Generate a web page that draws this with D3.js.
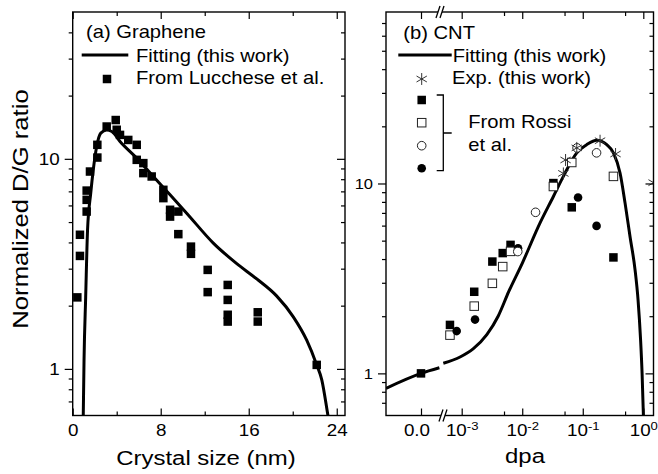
<!DOCTYPE html>
<html>
<head>
<meta charset="utf-8">
<script src="https://cdn.jsdelivr.net/npm/d3@7/dist/d3.min.js"></script>
<style>
  body { margin: 0; background: #fff; }
  svg text { font-family: "Liberation Sans", Arial, sans-serif; fill: #000; }
</style>
</head>
<body>
<svg id="chart" width="658" height="474"></svg>
<script>
// (a) Graphene: fitting curve (crystal size nm, normalized D/G)
const laFit = [0.96, 1.03, 1.18, 1.35, 1.64, 1.87, 2.18, 2.55, 3.09, 3.55, 4.3, 5.82, 7.33, 8.85, 10.36, 12.78, 14.91, 16.73, 18.55, 20.05, 21.27, 22.18, 22.64, 23.2, 23.4];
const ratioFitA = [0.6, 1.1, 2.2, 4.59, 6.87, 8.87, 11.45, 13.25, 13.7, 13.5, 12.1, 10.08, 8.23, 6.74, 5.51, 3.97, 3.17, 2.68, 2.22, 1.77, 1.37, 1.045, 0.887, 0.6, 0.52];

// (a) points from Lucchese et al.
const laLucchese = [0.42, 0.66, 0.66, 1.27, 1.27, 1.27, 1.57, 2.24, 2.24, 3.09, 3.91, 4.0, 4.3, 5.05, 5.82, 5.82, 6.42, 6.42, 7.18, 8.24, 8.24, 8.85, 8.85, 9.6, 9.6, 10.75, 10.75, 12.27, 12.27, 14.09, 14.09, 14.09, 14.09, 16.82, 16.82, 22.18];
const ratioLucchese = [2.19, 3.45, 4.35, 5.61, 6.38, 7.06, 8.70, 10.14, 11.66, 14.25, 15.3, 13.75, 13.0, 12.3, 11.66, 9.89, 9.54, 8.55, 8.24, 7.12, 6.50, 5.72, 5.31, 5.61, 4.38, 3.82, 3.53, 2.96, 2.32, 2.51, 2.13, 1.81, 1.68, 1.86, 1.68, 1.045];

// (b) CNT: fitting curve, linear part near 0 and log part
const dpaFitLin = [-0.0004, 0, 0.00021];
const ratioFitLin = [0.834, 1.0, 1.07];
const dpaFit = [4.97e-4, 9.4e-4, 1.56e-3, 2.6e-3, 4e-3, 6e-3, 1e-2, 1.97e-2, 3.27e-2, 4.78e-2, 7.96e-2, 0.116, 0.17, 0.249, 0.321, 0.413, 0.5, 0.605, 0.731, 0.819, 0.902, 0.955, 1.004, 1.02];
const ratioFitB = [1.13, 1.22, 1.35, 1.6, 2.0, 2.7, 3.8, 6.2, 8.54, 10.9, 14.5, 16.0, 16.9, 16.0, 14.5, 11.35, 7.88, 5.23, 3.51, 2.44, 1.5, 1.0, 0.598, 0.5];

// (b) Exp. (this work)
const dpaExp = [0.0478, 0.052, 0.0796, 0.193, 0.348, 1.48];
const ratioExp = [11.3, 13.3, 15.4, 16.8, 14.3, 10.1];

// (b) From Rossi et al. (four sets)
const dpaRossiZero = [0];
const ratioRossiZero = [1.0];
const dpaRossiFilledSq = [6.4e-4, 1.61e-3, 3.21e-3, 4.76e-3, 6.41e-3, 3.27e-2, 0.0658, 0.321];
const ratioRossiFilledSq = [1.80, 2.69, 3.88, 4.30, 4.75, 10.05, 7.49, 4.08];
const dpaRossiOpenSq = [6.4e-4, 1.61e-3, 3.21e-3, 4.76e-3, 6.41e-3, 3.27e-2, 0.0658, 0.321];
const ratioRossiOpenSq = [1.59, 2.26, 2.98, 3.65, 4.39, 9.64, 12.9, 10.9];
const dpaRossiOpenCirc = [8.44e-3, 0.0166, 0.0805, 0.169];
const ratioRossiOpenCirc = [4.38, 7.05, 15.4, 14.5];
const dpaRossiFilledCirc = [8.26e-4, 1.66e-3, 8.53e-3, 0.0836, 0.169];
const ratioRossiFilledCirc = [1.67, 1.92, 4.56, 8.44, 5.98];

// ticks
const ticksAx = [0, 8, 16, 24];
const minorAx = [4, 12, 20];
const ticksY = [1, 10];
const minorAy = [0.7, 0.8, 0.9, 2, 3, 4, 5, 6, 7, 8, 9, 20, 30, 40];
const minorBy = [0.7, 0.8, 0.9, 2, 3, 4, 5, 6, 7, 8, 9, 20, 30, 40, 50, 60, 70];
const ticksBlin = [0];
const ticksBlog = [1e-3, 1e-2, 1e-1, 1];
const minorBlog = [5e-3, 5e-2, 5e-1];

const svg = d3.select("#chart");
const SX = 1.14;
const plotTop = 12, plotBottom = 415.5;
const aLeft = 72.7, aRight = 345;
const bLeft = 386, bRight = 653.5;

const xA = d3.scaleLinear().domain([0, 24.75]).range([aLeft, aRight]);
const yA = d3.scaleLog().domain([0.6, 50]).range([plotBottom, plotTop]);
const yB = d3.scaleLog().domain([0.6, 80]).range([plotBottom, plotTop]);
const xBLin = d3.scaleLinear().domain([-0.0004, 0.00024]).range([bLeft, 442]);
const xBLog = d3.scaleLog().domain([1e-3, 1]).range([461.7, 643.3]);

function addText(g, x, y, str, size, anchor) {
    return g.append("text")
        .attr("transform", `translate(${x},${y}) scale(${SX},1)`)
        .attr("text-anchor", anchor || "start")
        .attr("font-size", size)
        .text(str);
}

function styleAxis(g, size) {
    g.select(".domain").remove();
    g.selectAll(".tick line").attr("stroke", "#000").attr("stroke-width", 1.2);
    g.selectAll(".tick text").attr("font-size", size).attr("fill", "#000");
    return g;
}

const defs = svg.append("defs");
defs.append("clipPath").attr("id", "clipA").append("rect")
    .attr("x", aLeft).attr("y", plotTop).attr("width", aRight - aLeft).attr("height", plotBottom - plotTop);
defs.append("clipPath").attr("id", "clipB").append("rect")
    .attr("x", bLeft).attr("y", plotTop).attr("width", bRight - bLeft).attr("height", plotBottom - plotTop);

// ---------- panel (a) ----------
const gA = svg.append("g");
const dataA = gA.append("g").attr("clip-path", "url(#clipA)");

dataA.append("path")
    .datum(d3.zip(laFit, ratioFitA))
    .attr("d", d3.line().x(d => xA(d[0])).y(d => yA(d[1])).curve(d3.curveMonotoneX))
    .attr("fill", "none").attr("stroke", "#000").attr("stroke-width", 3);

const sqA = 8.5;
dataA.selectAll("rect.pt")
    .data(d3.zip(laLucchese, ratioLucchese))
    .join("rect")
    .attr("class", "pt")
    .attr("x", d => xA(d[0]) - sqA / 2)
    .attr("y", d => yA(d[1]) - sqA / 2)
    .attr("width", sqA).attr("height", sqA)
    .attr("fill", "#000");

gA.append("rect")
    .attr("x", aLeft).attr("y", plotTop).attr("width", aRight - aLeft).attr("height", plotBottom - plotTop)
    .attr("fill", "none").attr("stroke", "#000").attr("stroke-width", 1.4);

// bottom/top ticks (inward)
const axAb = gA.append("g").attr("transform", `translate(0,${plotBottom})`)
    .call(d3.axisBottom(xA).tickValues(ticksAx).tickSize(-7).tickPadding(9).tickFormat(d3.format("d")));
styleAxis(axAb, 16.5).selectAll(".tick text").attr("transform", `scale(${SX},1)`);
styleAxis(gA.append("g").attr("transform", `translate(0,${plotBottom})`)
    .call(d3.axisBottom(xA).tickValues(minorAx).tickSize(-4).tickFormat("")), 10);
styleAxis(gA.append("g").attr("transform", `translate(0,${plotTop})`)
    .call(d3.axisTop(xA).tickValues(ticksAx).tickSize(-7).tickFormat("")), 10);
styleAxis(gA.append("g").attr("transform", `translate(0,${plotTop})`)
    .call(d3.axisTop(xA).tickValues(minorAx).tickSize(-4).tickFormat("")), 10);

// left ticks (outward), right ticks (inward)
const axAl = gA.append("g").attr("transform", `translate(${aLeft},0)`)
    .call(d3.axisLeft(yA).tickValues(ticksY).tickSize(8).tickPadding(5).tickFormat(d3.format("d")));
styleAxis(axAl, 16.5).selectAll(".tick text")
    .attr("x", -13 / SX).attr("transform", `scale(${SX},1)`);
styleAxis(gA.append("g").attr("transform", `translate(${aLeft},0)`)
    .call(d3.axisLeft(yA).tickValues(minorAy).tickSize(4).tickFormat("")), 10);
styleAxis(gA.append("g").attr("transform", `translate(${aRight},0)`)
    .call(d3.axisRight(yA).tickValues(ticksY).tickSize(-8).tickFormat("")), 10);
styleAxis(gA.append("g").attr("transform", `translate(${aRight},0)`)
    .call(d3.axisRight(yA).tickValues(minorAy).tickSize(-4).tickFormat("")), 10);

addText(gA, 206, 465, "Crystal size (nm)", 21, "middle");
gA.append("text")
    .attr("transform", `translate(28,209) rotate(-90) scale(${SX},1)`)
    .attr("text-anchor", "middle").attr("font-size", 22.5)
    .text("Normalized D/G ratio");

// legend (a)
addText(gA, 86, 37.5, "(a) Graphene", 17.7);
gA.append("line").attr("x1", 81.7).attr("x2", 128.3).attr("y1", 55).attr("y2", 55)
    .attr("stroke", "#000").attr("stroke-width", 3);
addText(gA, 136, 61.7, "Fitting (this work)", 17.7);
gA.append("rect").attr("x", 107 - sqA / 2).attr("y", 79 - sqA / 2).attr("width", sqA).attr("height", sqA).attr("fill", "#000");
addText(gA, 136, 84, "From Lucchese et al.", 17.7);

// ---------- panel (b) ----------
const gB = svg.append("g");
const dataB = gB.append("g").attr("clip-path", "url(#clipB)");

const fitLine = d3.line().curve(d3.curveMonotoneX);
dataB.append("path")
    .datum(d3.zip(dpaFitLin, ratioFitLin).map(d => [xBLin(d[0]), yB(d[1])]))
    .attr("d", fitLine)
    .attr("fill", "none").attr("stroke", "#000").attr("stroke-width", 3);
dataB.append("path")
    .datum(d3.zip(dpaFit, ratioFitB).map(d => [xBLog(d[0]), yB(d[1])]))
    .attr("d", fitLine)
    .attr("fill", "none").attr("stroke", "#000").attr("stroke-width", 3);

const sqB = 8.5, rB = 4.3;
function squares(g, xs, ys, xScale, filled) {
    g.selectAll(null).data(d3.zip(xs, ys)).join("rect")
        .attr("x", d => xScale(d[0]) - sqB / 2)
        .attr("y", d => yB(d[1]) - sqB / 2)
        .attr("width", sqB).attr("height", sqB)
        .attr("fill", filled ? "#000" : "#fff")
        .attr("stroke", filled ? "none" : "#222").attr("stroke-width", 1);
}
function circles(g, xs, ys, filled) {
    g.selectAll(null).data(d3.zip(xs, ys)).join("circle")
        .attr("cx", d => xBLog(d[0])).attr("cy", d => yB(d[1])).attr("r", rB)
        .attr("fill", filled ? "#000" : "#fff")
        .attr("stroke", filled ? "none" : "#222").attr("stroke-width", 1);
}
squares(dataB, dpaRossiZero, ratioRossiZero, xBLin, true);
squares(dataB, dpaRossiFilledSq, ratioRossiFilledSq, xBLog, true);
squares(dataB, dpaRossiOpenSq, ratioRossiOpenSq, xBLog, false);
circles(dataB, dpaRossiFilledCirc, ratioRossiFilledCirc, true);
circles(dataB, dpaRossiOpenCirc, ratioRossiOpenCirc, false);

const star = d3.symbol(d3.symbolAsterisk, 100);
dataB.selectAll("path.exp").data(d3.zip(dpaExp, ratioExp)).join("path")
    .attr("class", "exp")
    .attr("transform", d => `translate(${xBLog(d[0])},${yB(d[1])})`)
    .attr("d", star)
    .attr("fill", "none").attr("stroke", "#333").attr("stroke-width", 1);

gB.append("rect")
    .attr("x", bLeft).attr("y", plotTop).attr("width", bRight - bLeft).attr("height", plotBottom - plotTop)
    .attr("fill", "none").attr("stroke", "#000").attr("stroke-width", 1.4);

// x ticks: linear part and log part
const axBlin = gB.append("g").attr("transform", `translate(0,${plotBottom})`)
    .call(d3.axisBottom(xBLin).tickValues(ticksBlin).tickSize(-7).tickPadding(9).tickFormat(d3.format(".1f")));
styleAxis(axBlin, 16.5).selectAll(".tick text").attr("transform", `scale(${SX},1)`).attr("x", -4);
const axBlog = gB.append("g").attr("transform", `translate(0,${plotBottom})`)
    .call(d3.axisBottom(xBLog).tickValues(ticksBlog).tickSize(-7).tickPadding(9).tickFormat(""));
styleAxis(axBlog, 16.5).selectAll(".tick text")
    .attr("transform", `scale(${SX},1)`)
    .each(function (d) {
        const t = d3.select(this);
        t.append("tspan").text("10");
        t.append("tspan").attr("dy", -6).attr("font-size", 11.5).text(String(Math.round(Math.log10(d))));
    });
styleAxis(gB.append("g").attr("transform", `translate(0,${plotBottom})`)
    .call(d3.axisBottom(xBLog).tickValues(minorBlog).tickSize(-4).tickFormat("")), 10);
styleAxis(gB.append("g").attr("transform", `translate(0,${plotTop})`)
    .call(d3.axisTop(xBLin).tickValues(ticksBlin).tickSize(-7).tickFormat("")), 10);
styleAxis(gB.append("g").attr("transform", `translate(0,${plotTop})`)
    .call(d3.axisTop(xBLog).tickValues(ticksBlog).tickSize(-7).tickFormat("")), 10);
styleAxis(gB.append("g").attr("transform", `translate(0,${plotTop})`)
    .call(d3.axisTop(xBLog).tickValues(minorBlog).tickSize(-4).tickFormat("")), 10);

// y ticks
const axBl = gB.append("g").attr("transform", `translate(${bLeft},0)`)
    .call(d3.axisLeft(yB).tickValues(ticksY).tickSize(8).tickPadding(5).tickFormat(d3.format("d")));
styleAxis(axBl, 14.5).selectAll(".tick text")
    .attr("x", -13 / SX).attr("transform", `scale(${SX},1)`);
styleAxis(gB.append("g").attr("transform", `translate(${bLeft},0)`)
    .call(d3.axisLeft(yB).tickValues(minorBy).tickSize(4).tickFormat("")), 10);
styleAxis(gB.append("g").attr("transform", `translate(${bRight},0)`)
    .call(d3.axisRight(yB).tickValues(ticksY).tickSize(-8).tickFormat("")), 10);
styleAxis(gB.append("g").attr("transform", `translate(${bRight},0)`)
    .call(d3.axisRight(yB).tickValues(minorBy).tickSize(-4).tickFormat("")), 10);

// axis break marks
function breakMark(x, y) {
    gB.append("polygon")
        .attr("points", `${x - 5},${y + 6} ${x - 1},${y - 6} ${x + 3},${y - 6} ${x - 1},${y + 6}`)
        .attr("fill", "#fff");
    gB.append("line").attr("x1", x - 5).attr("y1", y + 6).attr("x2", x - 1).attr("y2", y - 6)
        .attr("stroke", "#000").attr("stroke-width", 1.3);
    gB.append("line").attr("x1", x - 1).attr("y1", y + 6).attr("x2", x + 3).attr("y2", y - 6)
        .attr("stroke", "#000").attr("stroke-width", 1.3);
}
breakMark(441, plotTop);
breakMark(444, plotBottom);

addText(gB, 525, 463, "dpa", 21, "middle");

// legend (b)
addText(gB, 403.3, 38.5, "(b) CNT", 17.7);
gB.append("line").attr("x1", 398.3).attr("x2", 451.7).attr("y1", 55).attr("y2", 55)
    .attr("stroke", "#000").attr("stroke-width", 3);
addText(gB, 452.7, 61.7, "Fitting (this work)", 17.7);
gB.append("path").attr("transform", "translate(421.7,79)").attr("d", star)
    .attr("fill", "none").attr("stroke", "#333").attr("stroke-width", 1);
addText(gB, 452, 84, "Exp. (this work)", 17.7);

const legY = [100, 122.7, 145.7, 168.3];
gB.append("rect").attr("x", 421.7 - sqB / 2).attr("y", legY[0] - sqB / 2).attr("width", sqB).attr("height", sqB).attr("fill", "#000");
gB.append("rect").attr("x", 421.7 - sqB / 2).attr("y", legY[1] - sqB / 2).attr("width", sqB).attr("height", sqB)
    .attr("fill", "#fff").attr("stroke", "#222");
gB.append("circle").attr("cx", 421.7).attr("cy", legY[2]).attr("r", rB).attr("fill", "#fff").attr("stroke", "#222");
gB.append("circle").attr("cx", 421.7).attr("cy", legY[3]).attr("r", rB).attr("fill", "#000");

gB.append("path")
    .attr("d", "M436.7,95 H443.3 V170.7 H436.7 M443.3,133 H451.7")
    .attr("fill", "none").attr("stroke", "#000").attr("stroke-width", 1.3);
addText(gB, 468.3, 128.3, "From Rossi", 17.7);
addText(gB, 468.3, 150.5, "et al.", 17.7);
</script>
</body>
</html>
